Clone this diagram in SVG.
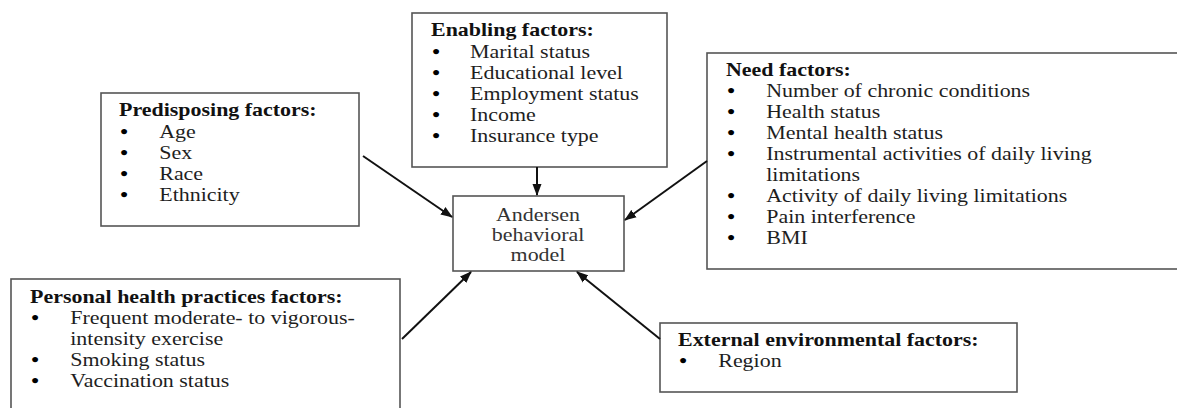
<svg xmlns="http://www.w3.org/2000/svg" width="1177" height="408" viewBox="0 0 1177 408">
<style>
  .box { fill: #ffffff; stroke: #555555; stroke-width: 1.6; }
  text { font-family: "Liberation Serif", "Times New Roman", serif; font-size: 18px; fill: #1e1e1e; }
  .title { font-weight: bold; fill: #111111; }
  .bul { fill: #000000; font-weight: bold; }
  .center { text-anchor: middle; fill: #333333; }
  .conn { stroke: #111111; stroke-width: 2; fill: none; marker-end: url(#arrow); }
</style>
<defs>
  <marker id="arrow" markerUnits="userSpaceOnUse" markerWidth="12" markerHeight="10" refX="11" refY="5" orient="auto">
    <path d="M0,0.5 L12,5 L0,9.5 Z" fill="#111111"/>
  </marker>
</defs>
<rect width="1177" height="408" fill="#ffffff"/>

<g id="predisposing">
  <rect class="box" x="101" y="93" width="258" height="133"/>
  <g transform="translate(119,0) scale(1.22,1)">
    <text class="title" x="0" y="116">Predisposing factors:</text>
    <text class="bul" x="1" y="138">•</text><text x="33" y="138">Age</text>
    <text class="bul" x="1" y="159">•</text><text x="33" y="159">Sex</text>
    <text class="bul" x="1" y="180">•</text><text x="33" y="180">Race</text>
    <text class="bul" x="1" y="201">•</text><text x="33" y="201">Ethnicity</text>
  </g>
</g>

<g id="enabling">
  <rect class="box" x="412" y="13" width="255" height="154"/>
  <g transform="translate(431,0) scale(1.22,1)">
    <text class="title" x="0" y="36">Enabling factors:</text>
    <text class="bul" x="1" y="58">•</text><text x="32" y="58">Marital status</text>
    <text class="bul" x="1" y="79">•</text><text x="32" y="79">Educational level</text>
    <text class="bul" x="1" y="100">•</text><text x="32" y="100">Employment status</text>
    <text class="bul" x="1" y="121">•</text><text x="32" y="121">Income</text>
    <text class="bul" x="1" y="142">•</text><text x="32" y="142">Insurance type</text>
  </g>
</g>

<g id="need">
  <rect class="box" x="707" y="53" width="480" height="216"/>
  <g transform="translate(726,0) scale(1.22,1)">
    <text class="title" x="0" y="76">Need factors:</text>
    <text class="bul" x="1" y="97">•</text><text x="33" y="97">Number of chronic conditions</text>
    <text class="bul" x="1" y="118">•</text><text x="33" y="118">Health status</text>
    <text class="bul" x="1" y="139">•</text><text x="33" y="139">Mental health status</text>
    <text class="bul" x="1" y="160">•</text><text x="33" y="160">Instrumental activities of daily living</text>
    <text x="33" y="181">limitations</text>
    <text class="bul" x="1" y="202">•</text><text x="33" y="202">Activity of daily living limitations</text>
    <text class="bul" x="1" y="223">•</text><text x="33" y="223">Pain interference</text>
    <text class="bul" x="1" y="244">•</text><text x="33" y="244">BMI</text>
  </g>
</g>

<g id="andersen">
  <rect class="box" x="453" y="196" width="171" height="75"/>
  <g transform="translate(538,0) scale(1.22,1)">
    <text class="center" x="0" y="221">Andersen</text>
    <text class="center" x="0" y="241">behavioral</text>
    <text class="center" x="0" y="261">model</text>
  </g>
</g>

<g id="personal">
  <rect class="box" x="11" y="279" width="389" height="140"/>
  <g transform="translate(30,0) scale(1.22,1)">
    <text class="title" x="0" y="303">Personal health practices factors:</text>
    <text class="bul" x="1" y="324">•</text><text x="33" y="324">Frequent moderate- to vigorous-</text>
    <text x="33" y="345">intensity exercise</text>
    <text class="bul" x="1" y="366">•</text><text x="33" y="366">Smoking status</text>
    <text class="bul" x="1" y="387">•</text><text x="33" y="387">Vaccination status</text>
  </g>
</g>

<g id="external">
  <rect class="box" x="660" y="323" width="357" height="69"/>
  <g transform="translate(678,0) scale(1.22,1)">
    <text class="title" x="0" y="346">External environmental factors:</text>
    <text class="bul" x="1" y="367">•</text><text x="33" y="367">Region</text>
  </g>
</g>

<g id="connectors">
  <line class="conn" x1="363" y1="156" x2="452" y2="217"/>
  <line class="conn" x1="537" y1="167" x2="537" y2="195"/>
  <line class="conn" x1="707" y1="161" x2="625" y2="220"/>
  <line class="conn" x1="402" y1="339" x2="471" y2="272"/>
  <line class="conn" x1="660" y1="339" x2="577" y2="272"/>
</g>
</svg>
